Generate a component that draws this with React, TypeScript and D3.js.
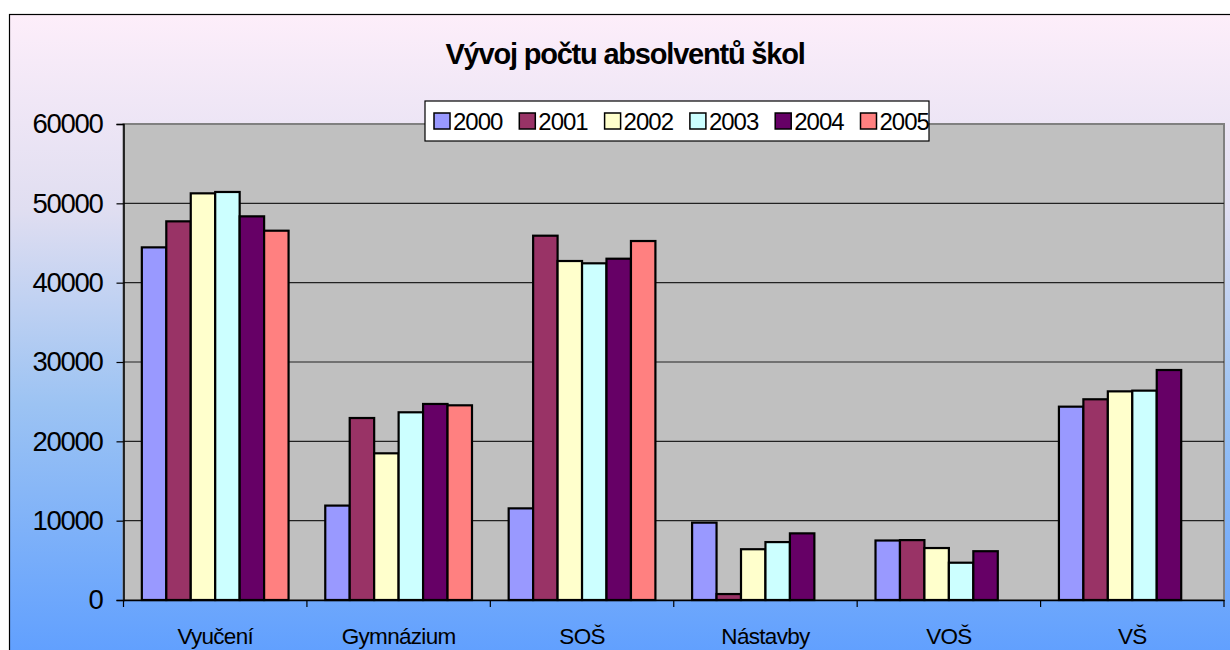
import React, { useEffect, useRef } from 'react';
import * as d3 from 'd3';

const categories = ['Vyučení', 'Gymnázium', 'SOŠ', 'Nástavby', 'VOŠ', 'VŠ'];
const years = ['2000', '2001', '2002', '2003', '2004', '2005'];

const v2000 = [44450, 11900, 11550, 9750, 7500, 24370];
const v2001 = [47730, 22940, 45920, 750, 7550, 25300];
const v2002 = [51260, 18490, 42730, 6400, 6550, 26300];
const v2003 = [51430, 23660, 42440, 7300, 4700, 26390];
const v2004 = [48360, 24710, 43020, 8400, 6150, 28990];
const v2005 = [46550, 24540, 45250, null, null, null];

const yTicks = [0, 10000, 20000, 30000, 40000, 50000, 60000];
const colors = ['#9999ff', '#993366', '#ffffcc', '#ccffff', '#660066', '#ff8080'];

const series = [v2000, v2001, v2002, v2003, v2004, v2005];

const App = () => {
  const svgRef = useRef<SVGSVGElement>(null);

  useEffect(() => {
    const svg = d3.select(svgRef.current);
    svg.selectAll('*').remove();

    const W = 1230;
    const H = 650;
    const plot = { left: 123.5, right: 1224, top: 124, bottom: 600 };

    // background gradient
    const defs = svg.append('defs');
    const grad = defs
      .append('linearGradient')
      .attr('id', 'bg')
      .attr('x1', 0)
      .attr('y1', 0)
      .attr('x2', 0)
      .attr('y2', 1);
    [
      ['0%', '#fdeefa'],
      ['30%', '#e0def1'],
      ['60%', '#9cc3f3'],
      ['100%', '#5e9eff'],
    ].forEach(([o, c]) => grad.append('stop').attr('offset', o).attr('stop-color', c));

    svg.append('rect').attr('width', W).attr('height', H).attr('fill', '#fff');
    svg
      .append('rect')
      .attr('x', 9.5)
      .attr('y', 14.5)
      .attr('width', W + 10)
      .attr('height', H)
      .attr('fill', 'url(#bg)')
      .attr('stroke', '#000')
      .attr('stroke-width', 1.2);

    const x0 = d3.scaleBand().domain(categories).range([plot.left, plot.right]).padding(0);
    const x1 = d3.scaleBand().domain(years).range([0, x0.bandwidth()]).paddingInner(0).paddingOuter(0.75);
    const y = d3.scaleLinear().domain([0, 60000]).range([plot.bottom, plot.top]);

    // plot area
    svg
      .append('rect')
      .attr('x', plot.left)
      .attr('y', plot.top)
      .attr('width', plot.right - plot.left)
      .attr('height', plot.bottom - plot.top)
      .attr('fill', '#c0c0c0')
      .attr('stroke', '#808080')
      .attr('stroke-width', 2);

    // gridlines
    svg
      .append('g')
      .selectAll('line')
      .data(yTicks.filter((t) => t > 0 && t < 60000))
      .join('line')
      .attr('x1', plot.left)
      .attr('x2', plot.right)
      .attr('y1', (d) => y(d))
      .attr('y2', (d) => y(d))
      .attr('stroke', '#222')
      .attr('stroke-width', 1.2);

    // bars
    const rows = categories.map((c, i) => ({
      category: c,
      values: years.map((yr, j) => ({ key: yr, value: series[j][i] })).filter((d) => d.value != null),
    }));

    svg
      .append('g')
      .selectAll('g')
      .data(rows)
      .join('g')
      .attr('transform', (d) => `translate(${x0(d.category)},0)`)
      .selectAll('rect')
      .data((d) => d.values)
      .join('rect')
      .attr('x', (d) => x1(d.key)!)
      .attr('y', (d) => y(d.value as number))
      .attr('width', x1.bandwidth())
      .attr('height', (d) => plot.bottom - y(d.value as number))
      .attr('fill', (d) => colors[years.indexOf(d.key)])
      .attr('stroke', '#000')
      .attr('stroke-width', 2.2);

    // y axis
    const yAxis = svg
      .append('g')
      .attr('transform', `translate(${plot.left},0)`)
      .call(d3.axisLeft(y).tickValues(yTicks).tickSize(7).tickPadding(14).tickFormat((d) => String(d)));
    yAxis.select('.domain').attr('stroke', '#000').attr('stroke-width', 1.5);
    yAxis.selectAll('.tick line').attr('stroke', '#000').attr('stroke-width', 1.2);
    yAxis
      .selectAll('.tick text')
      .attr('font-family', 'Liberation Sans, Arial, sans-serif')
      .attr('font-size', 27.5)
      .attr('letter-spacing', -1.3)
      .attr('fill', '#000');

    // x axis
    const xAxis = svg
      .append('g')
      .attr('transform', `translate(0,${plot.bottom})`)
      .call(d3.axisBottom(x0).tickSize(0).tickPadding(28));
    xAxis.select('.domain').attr('stroke', '#000').attr('stroke-width', 1.5);
    xAxis
      .selectAll('.tick text')
      .attr('font-family', 'Liberation Sans, Arial, sans-serif')
      .attr('font-size', 22.5)
      .attr('letter-spacing', -0.7)
      .attr('fill', '#000');
    xAxis
      .append('g')
      .selectAll('line')
      .data(categories.map((c) => x0(c)!).concat([plot.right]))
      .join('line')
      .attr('x1', (d) => d)
      .attr('x2', (d) => d)
      .attr('y1', 0)
      .attr('y2', 7)
      .attr('stroke', '#000')
      .attr('stroke-width', 1.2);

    // title
    svg
      .append('text')
      .attr('x', 625)
      .attr('y', 64)
      .attr('text-anchor', 'middle')
      .attr('font-family', 'Liberation Sans, Arial, sans-serif')
      .attr('font-weight', 'bold')
      .attr('font-size', 29)
      .attr('letter-spacing', -1.2)
      .attr('fill', '#000')
      .text('Vývoj počtu absolventů škol');

    // legend
    const lg = svg.append('g').attr('transform', 'translate(425,101)');
    lg.append('rect').attr('width', 504).attr('height', 40).attr('fill', '#fff').attr('stroke', '#000').attr('stroke-width', 1.2);
    const item = lg
      .selectAll('g.item')
      .data(years)
      .join('g')
      .attr('class', 'item')
      .attr('transform', (d, i) => `translate(${9 + i * 85.3},12)`);
    item
      .append('rect')
      .attr('width', 16)
      .attr('height', 16)
      .attr('fill', (d, i) => colors[i])
      .attr('stroke', '#000')
      .attr('stroke-width', 1.5);
    item
      .append('text')
      .attr('x', 19)
      .attr('y', 16.5)
      .attr('font-family', 'Liberation Sans, Arial, sans-serif')
      .attr('font-size', 24)
      .attr('letter-spacing', -1)
      .attr('fill', '#000')
      .text((d) => d);
  }, []);

  return <svg ref={svgRef} width={1230} height={650} style={{ position: 'absolute', left: 0, top: 0 }} />;
};

export default App;
